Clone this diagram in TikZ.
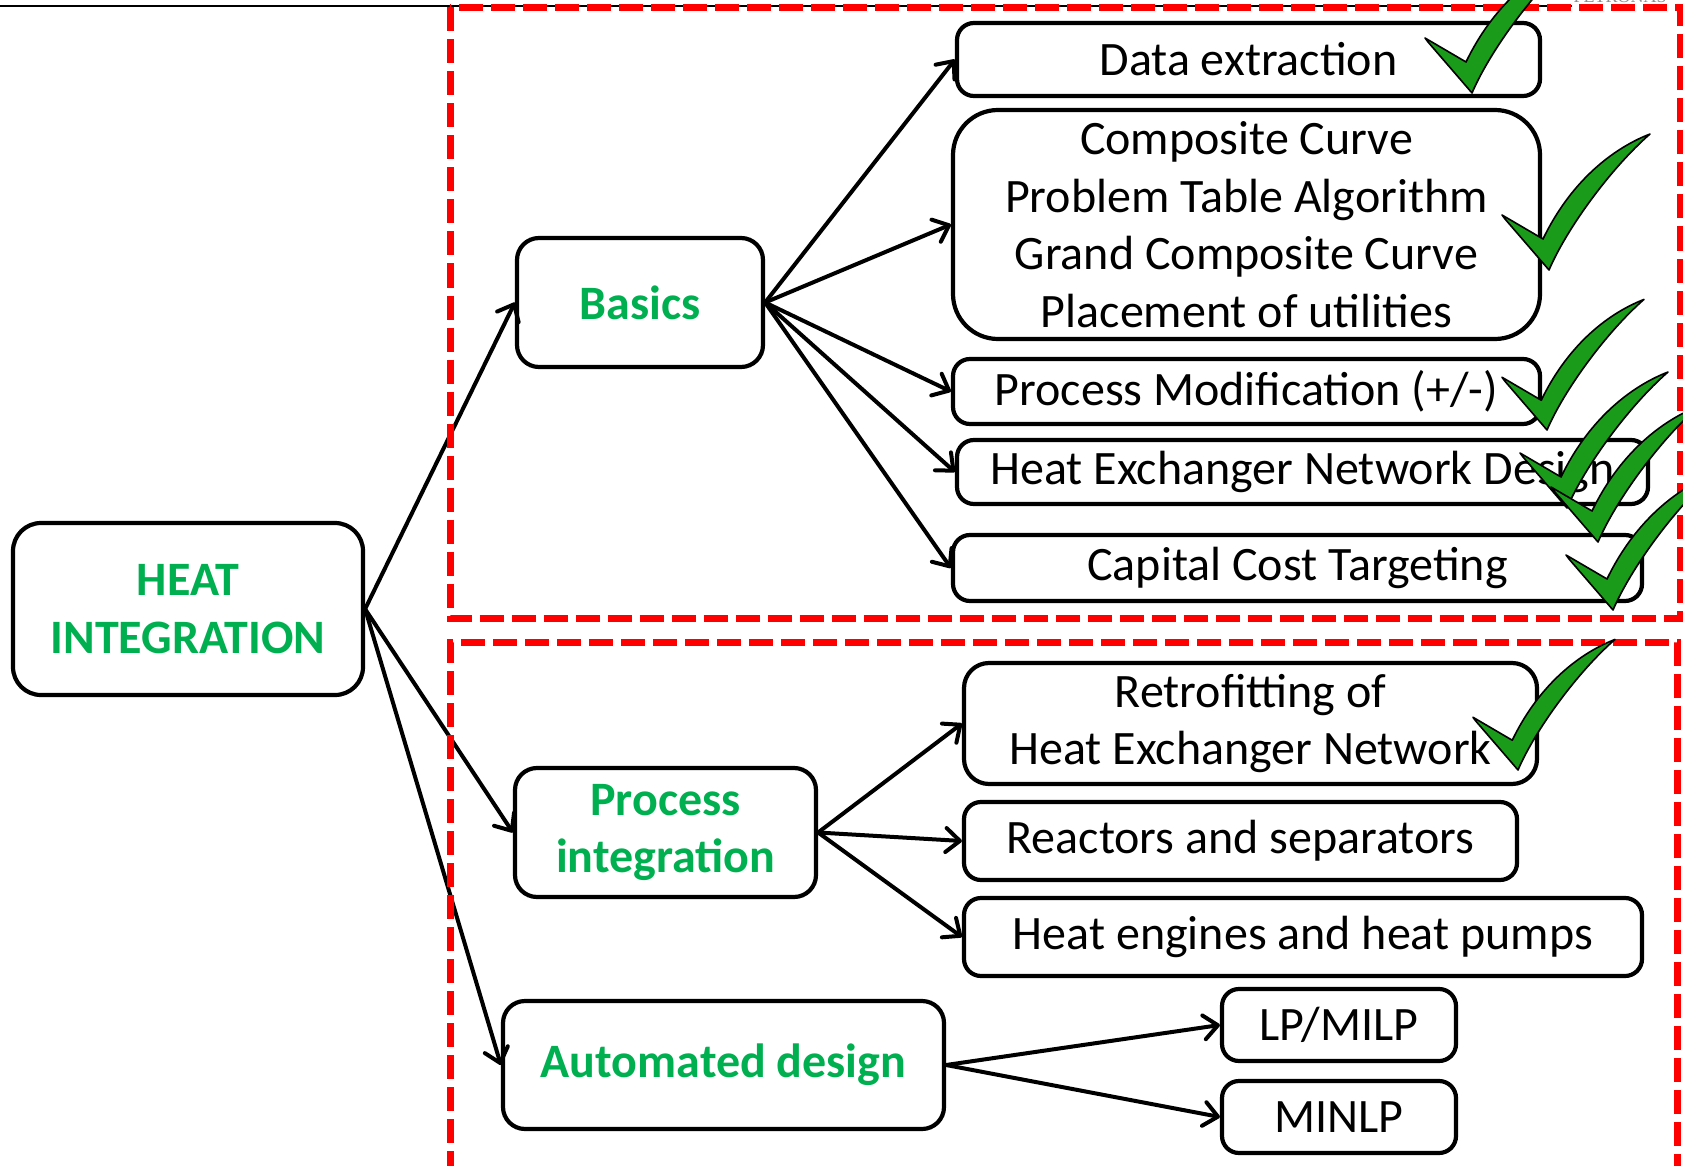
\documentclass[tikz,border=0pt]{standalone}
\usepackage{fontspec}
\setmainfont{Carlito}
\newfontfamily\logofont{Liberation Serif}
\usetikzlibrary{arrows.meta}

\definecolor{hgreen}{RGB}{0,176,80}
\definecolor{okgreen}{RGB}{26,156,26}

\newcommand{\plainfs}{\fontsize{48}{57.5}\selectfont}
\newcommand{\headfs}{\fontsize{48}{57.5}\selectfont\bfseries\color{hgreen}}

\tikzset{
  box/.style={draw=black, fill=white, line width=4.2pt, rounded corners=#1,
              rectangle, inner sep=0pt, align=center, font=\plainfs},
  box/.default=17pt,
  headbox/.style={box=#1, font=\headfs},
  headbox/.default=22pt,
  link/.style={line width=4pt, line cap=round,
               -{Straight Barb[length=14pt, width=24pt, line cap=round, line join=round, line width=4pt]}},
  zone/.style={draw=red, line width=7pt, dash pattern=on 24pt off 8pt},
  okmark/.pic={
    \filldraw[fill=okgreen, draw=black, line width=1.6pt, line join=round]
      (-47,-55) -- (-6,-31)
      .. controls (20,-85) and (60,-120) .. (101,-136)
      .. controls (62,-102) and (18,-42) .. (0,0)
      -- (-44,-51) -- cycle;
  }
}

\begin{document}
\begin{tikzpicture}[x=1pt, y=-1pt]
\useasboundingbox (0,0) rectangle (1683,1166);

% header rule and logo
\draw[line width=1.6pt] (0,6) -- (1572,6);
\node[anchor=base, text=black!45, font=\logofont\fontsize{18}{18}\selectfont]
  (logo) at (1620,3) {PETRONAS};

% root
\node[headbox=28pt, minimum width=350pt, minimum height=172pt]
  (heat) at (188,609) {HEAT\\INTEGRATION};

% second level
\node[headbox, minimum width=246pt, minimum height=129pt]
  (basics) at (640,302.5) {Basics};
\node[headbox, minimum width=301pt, minimum height=129pt]
  (procint) at (665.5,832.5) {Process\\integration};
\node[headbox, minimum width=441pt, minimum height=128pt]
  (auto) at (723.5,1065) {Automated design};

% basics branch
\node[box, minimum width=583pt, minimum height=73pt]
  (data) at (1248.5,59.5) {Data extraction};
\node[box=45pt, minimum width=587pt, minimum height=229pt]
  (comp) at (1246.5,224.5)
  {Composite Curve\\Problem Table Algorithm\\Grand Composite Curve\\Placement of utilities};
\node[box, minimum width=587pt, minimum height=65pt]
  (pmod) at (1246.5,391.5) {Process Modification (+/-)};
\node[box, minimum width=691pt, minimum height=64pt]
  (hen) at (1302.5,472) {Heat Exchanger Network Design};
\node[box, minimum width=689pt, minimum height=66pt]
  (cct) at (1297.5,568) {Capital Cost Targeting};

% process integration branch
\node[box=25pt, minimum width=573pt, minimum height=121pt]
  (retro) at (1250.5,723.5) {Retrofitting of\\Heat Exchanger Network};
\node[box, minimum width=553pt, minimum height=78pt]
  (react) at (1240.5,841) {Reactors and separators};
\node[box, minimum width=678pt, minimum height=78pt]
  (heng) at (1303,937) {Heat engines and heat pumps};

% automated design branch
\node[box, minimum width=234pt, minimum height=72pt]
  (lp) at (1339,1025) {LP/MILP};
\node[box, minimum width=234pt, minimum height=72pt]
  (minlp) at (1339,1117) {MINLP};

% connectors
\draw[link] (heat.east) -- (basics.west);
\draw[link] (heat.east) -- (procint.west);
\draw[link] (heat.east) -- (auto.west);

\draw[link] (basics.east) -- (data.west);
\draw[link] (basics.east) -- (comp.west);
\draw[link] (basics.east) -- (pmod.west);
\draw[link] (basics.east) -- (hen.west);
\draw[link] (basics.east) -- (cct.west);

\draw[link] (procint.east) -- (retro.west);
\draw[link] (procint.east) -- (react.west);
\draw[link] (procint.east) -- (heng.west);

\draw[link] (auto.east) -- (lp.west);
\draw[link] (auto.east) -- (minlp.west);

% dashed zones
\draw[zone] (450,7.5) rectangle (1680,618);
\draw[zone] (450,1175) -- (450,642) -- (1677,642) -- (1677,1175);

% check marks
\pic at (1472,93) {okmark};
\pic at (1549,270) {okmark};
\pic[scale=0.96] at (1547,430) {okmark};
\pic at (1567,508) {okmark};
\pic at (1598,542) {okmark};
\pic at (1613,610) {okmark};
\pic[scale=0.96] at (1518,770) {okmark};
\end{tikzpicture}
\end{document}
